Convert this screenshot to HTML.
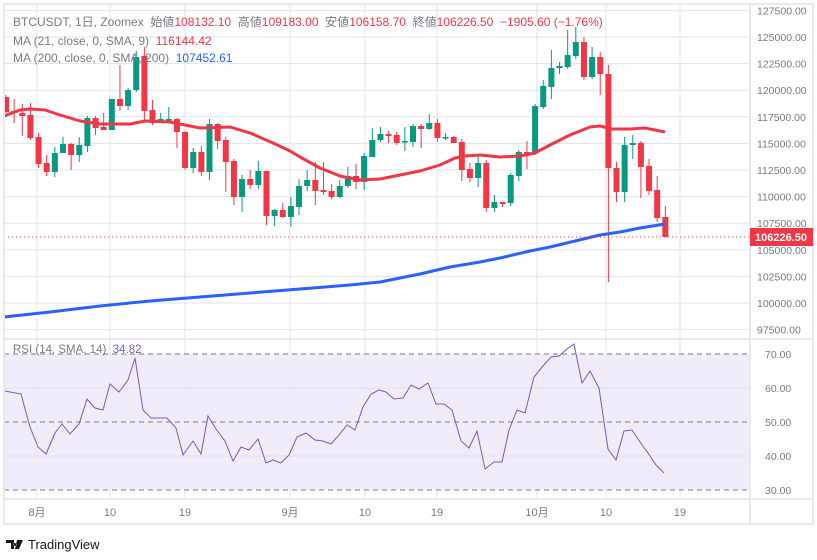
<!DOCTYPE html>
<html><head><meta charset="utf-8"><style>
html,body{margin:0;padding:0;background:#fff;width:817px;height:560px;overflow:hidden}
svg{display:block;font-family:"Liberation Sans","Noto Sans CJK JP",sans-serif}
.pre{white-space:pre}
</style></head><body>
<svg id="s" width="817" height="560" viewBox="0 0 817 560" xmlns="http://www.w3.org/2000/svg">
<rect x="0" y="0" width="817" height="560" fill="#fff"/>
<g id="grid" stroke="#e0e3eb" stroke-width="1"></g>
<rect x="4" y="354" width="746" height="136" fill="#ede9f8" opacity="0.85"/>
<g id="rsig" stroke="#e0e3eb"></g>
<g stroke="#787b86" stroke-width="1" stroke-dasharray="5,4">
<line x1="4" y1="354" x2="750" y2="354"/><line x1="4" y1="422" x2="750" y2="422"/><line x1="4" y1="490" x2="750" y2="490"/>
</g>
<g id="candles"></g>
<polyline id="ma21" fill="none" stroke="#f23645" stroke-width="3" stroke-linejoin="round"/>
<polyline id="ma200" fill="none" stroke="#2962ff" stroke-width="3" stroke-linejoin="round"/>
<line x1="4" y1="237" x2="750" y2="237" stroke="#f23645" stroke-width="1" stroke-dasharray="1,3"/>
<polyline id="rsi" fill="none" stroke="#7e57c2" stroke-width="1"/>
<g fill="none" stroke="#e8e9ee" stroke-width="2">
<rect x="4" y="4" width="809" height="520"/>
<line x1="750" y1="4" x2="750" y2="524"/>
<line x1="4" y1="499" x2="813" y2="499"/>
<line x1="4" y1="339" x2="813" y2="339"/>
</g>
<g id="ylab" font-size="10.5" fill="#787b86"></g>
<rect x="750" y="228" width="63" height="18" fill="#f23645"/>
<text x="755" y="241" font-size="11" fill="#fff" font-weight="bold">106226.50</text>
<g font-size="11" fill="#787b86" text-anchor="middle">
<text x="37" y="516">8月</text><text x="110" y="516">10</text><text x="185" y="516">19</text>
<text x="290" y="516">9月</text><text x="365" y="516">10</text><text x="437" y="516">19</text>
<text x="537" y="516">10月</text><text x="606" y="516">10</text><text x="680" y="516">19</text>
</g>
<g font-size="12" fill="#787b86" class="pre">
<text x="13" y="26" class="pre">BTCUSDT, 1日, Zoomex  始値<tspan fill="#f23645">108132.10</tspan>  高値<tspan fill="#f23645">109183.00</tspan>  安値<tspan fill="#f23645">106158.70</tspan>  終値<tspan fill="#f23645">106226.50  −1905.60 (−1.76%)</tspan></text>
<text x="13" y="45" class="pre">MA (21, close, 0, SMA, 9)  <tspan fill="#f23645">116144.42</tspan></text>
<text x="13" y="62" class="pre">MA (200, close, 0, SMA, 200)  <tspan fill="#2962ff">107452.61</tspan></text>
<text x="13" y="353" font-size="11.5" class="pre">RSI (14, SMA, 14)  <tspan fill="#7e57c2">34.82</tspan></text>
</g>
<g transform="translate(6,540)">
<path d="M0 0h8v9h-3v-6h-5z M9 3a1.5 1.5 0 1 0 0.01 0z M11 0h6l-4 9h-4z" fill="#131722"/>
<text x="22" y="9" font-size="13" fill="#131722">TradingView</text>
</g>
</svg>
<script>
const NS="http://www.w3.org/2000/svg";
function el(p,t,a){const e=document.createElementNS(NS,t);for(const k in a)e.setAttribute(k,a[k]);p.appendChild(e);return e;}
const grid=document.getElementById('grid');
const ylab=document.getElementById('ylab');
for(let k=0;k<=12;k++){const p=127500-2500*k;const y=37+(125000-p)*0.01064;
 if(y<336){el(grid,'line',{x1:4,y1:y,x2:750,y2:y});const t=el(ylab,'text',{x:757,y:y+4});t.textContent=p.toFixed(2);}}
[37,110,185,290,365,437,537,606,680].forEach(x=>el(grid,'line',{x1:x,y1:4,x2:x,y2:499}));
const rg=document.getElementById('rsig');
[388,456].forEach(y=>el(rg,'line',{x1:4,y1:y,x2:750,y2:y}));
[[70,354],[60,388],[50,422],[40,456],[30,490]].forEach(a=>{const t=el(ylab,'text',{x:765,y:a[1]+4});t.textContent=a[0].toFixed(2);});
const C=[[97,112,95,113],[111,113,99,123],[113,116,104,136],[115,138,103,140],[137,164,133,168],[163,172,155,176],[172,153,147,177],[153,144,137,153],[144,155,143,170],[155,145,137,162],[146,118,116,152],[118,128,116,135],[127,130,113,130],[130,99,99,130],[99,106,65,111],[106,90,88,110],[90,57,51,92],[56,111,47,122],
[110,123,100,125],[122,119,113,123],[120,119,107,122],[119,132,118,148],[132,168,131,170],[168,152,148,173],[152,172,146,176],[172,124,119,180],[124,141,123,149],[140,162,137,192],[161,197,159,205],[197,179,175,212],[179,185,170,189],[185,171,161,189],[171,216,171,225],[216,210,209,226],[210,217,203,218],
[217,206,197,227],[207,186,179,215],[186,180,170,191],[180,191,162,205],[190,192,162,195],[191,197,184,199],[197,186,180,198],[186,176,167,188],[176,182,164,189],[182,156,153,190],[157,140,128,157],[140,134,127,142],[134,136,131,143],[135,143,132,145],[142,141,127,151],[142,126,124,147],[126,129,124,148],[129,123,114,130],[123,138,119,142],[138,137,133,140],[137,143,136,143],[142,170,139,181],[169,178,163,182],[178,163,156,187],[163,208,160,212],[208,202,195,212],[202,204,202,207],[203,175,173,206],[176,152,150,181],[152,153,141,169],[152,106,104,155],
[107,86,80,109],[87,68,50,99],[68,66,62,74],[67,55,30,69],[56,42,27,59],[42,77,37,80],[77,57,47,79],[57,74,52,95],[74,168,65,282],[168,192,162,202],[192,145,137,202],[145,143,135,159],[143,167,141,198],[166,191,159,195],[190,218,176,222],[217,237,206,237]];
const cg=document.getElementById('candles');
C.forEach((c,i)=>{const x=6+8.14*i;const up=c[1]<c[0];const col=up?'#089981':'#f23645';
 el(cg,'line',{x1:x,y1:c[2],x2:x,y2:c[3],stroke:col,'stroke-width':1});
 const t=Math.min(c[0],c[1]),h=Math.max(1.5,Math.abs(c[0]-c[1]));
 el(cg,'rect',{x:x-3,y:t,width:6,height:h,fill:col});});
document.getElementById('ma21').setAttribute('points',"4,116 20,110 30,109 45,110 60,115 80,121 100,124 130,124 145,121 170,122 200,128 230,127 250,133 273,143 290,151 300,157 320,168 340,176 360,180 380,179 400,175 420,171 440,165 455,158 465,156 480,155 500,157 520,156 535,153 550,145 570,135 590,127 600,126 612,129 630,129 645,128 665,132");
document.getElementById('ma200').setAttribute('points',"4,317 50,312 100,306 150,301 200,297 250,293 300,289 350,285 380,282 420,274 450,267 480,262 500,258 530,251 550,247 575,241 600,235 620,232 640,228 665,224");
document.getElementById('rsi').setAttribute('points',"5,391 21,394 30,427 38,447 46,454 55,433 62,424 70,434 79,424 87,399 95,408 103,410 110,384 119,392 128,380 135,358 143,410 151,418 167,418 176,428 183,455 193,441 201,454 208,416 216,429 225,441 233,461 241,447 249,450 258,439 266,463 273,460 281,463 289,455 297,437 306,433 315,440 323,441 331,444 339,435 347,425 355,430 363,407 371,394 379,390 386,392 394,399 403,398 411,385 419,389 428,383 436,404 444,404 452,410 461,441 469,448 477,431 485,469 494,462 502,462 509,430 517,410 525,413 534,377 543,366 551,357 559,356 567,349 574,344 582,383 590,371 599,388 608,449 616,460 624,431 632,430 640,442 648,453 656,465 664,473");
</script>
</body></html>
